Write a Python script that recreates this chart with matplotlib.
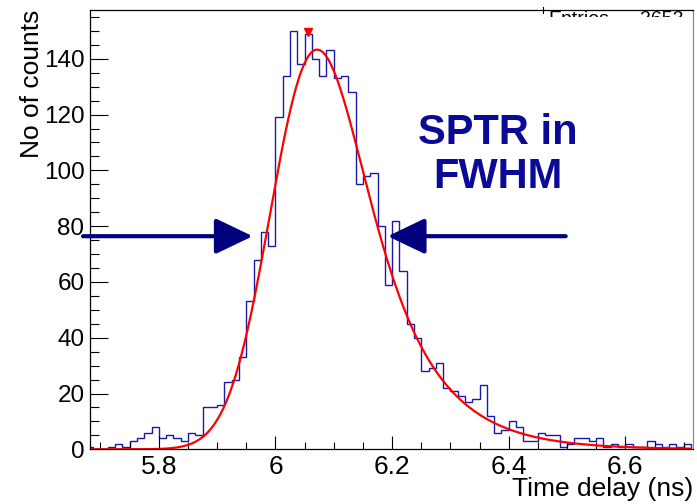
import math
import numpy as np
import matplotlib
matplotlib.use('Agg')
import matplotlib.pyplot as plt
from matplotlib.ticker import MultipleLocator, FuncFormatter
from matplotlib.transforms import Bbox

plt.rcParams['font.family'] = ['Liberation Sans', 'DejaVu Sans']

# histogram: 12.5 ps bins starting at 5.675 ns
bin_width = 0.0125
first_edge = 5.675
counts = [1, 0, 0, 1, 2, 1, 3, 4, 6, 8, 4, 5, 4, 3, 6, 5, 15, 15, 16, 24,
          25, 33, 53, 68, 78, 73,
          119, 134, 150, 138, 149, 140, 134, 143, 133, 134, 128, 95, 98, 99,
          80, 59, 82, 64, 45, 40, 28, 29, 31, 22, 21, 19, 17, 18, 23, 12,
          6, 7, 10, 8, 3, 3, 6, 5, 5, 1, 2, 4, 4, 3, 4, 1, 2, 1, 2, 1,
          1, 3, 2, 1, 2, 1, 2]
edges = first_edge + bin_width * np.arange(len(counts) + 1)

# exp-modified gaussian fit parameters
fit_const = 234.5
fit_mu = 6.016
fit_sigma = 0.065
fit_tau = 0.092

# peak marker
peak_x = 6.05625
peak_y = 149.5

navy = '#00007f'

fig = plt.figure(figsize=(6.97, 5.04), dpi=100)
ax = fig.add_axes([90/697, 1 - 449.3/504, 603/697, 439.3/504])

ax.stairs(counts, edges, color='#1a1aaa', lw=1.0)

xf = np.linspace(5.685, 6.712, 800)
erfc = np.vectorize(math.erfc)
yf = fit_const * np.exp(-(xf - fit_mu) / fit_tau) * \
    erfc((fit_sigma**2 / fit_tau - (xf - fit_mu)) / (math.sqrt(2) * fit_sigma))
ax.plot(xf, yf, color='red', lw=1.6)

ax.plot([peak_x], [peak_y], marker='v', color='red', ms=6, ls='none', clip_on=False)

ax.set_xlim(5.682, 6.716)
ax.set_ylim(0, 157.5)

ax.xaxis.set_major_locator(MultipleLocator(0.2))
ax.xaxis.set_minor_locator(MultipleLocator(0.05))
ax.yaxis.set_major_locator(MultipleLocator(20))
ax.yaxis.set_minor_locator(MultipleLocator(5))
ax.xaxis.set_major_formatter(FuncFormatter(lambda v, p: '%g' % round(v, 3)))
ax.tick_params(axis='x', which='major', direction='in', length=9.4, width=0.8,
               labelsize=19, pad=4)
ax.tick_params(axis='x', which='minor', direction='in', length=4.7, width=0.8)
ax.tick_params(axis='y', which='major', direction='in', length=13, width=0.8,
               labelsize=17.5, pad=4)
ax.tick_params(axis='y', which='minor', direction='in', length=6.5, width=0.8)
for s in ax.spines.values():
    s.set_linewidth(0.9)
ax.spines['right'].set_color('#888888')

ax.set_xlabel('Time delay (ns)', fontsize=19, loc='right')
ax.xaxis.set_label_coords(1.0, -0.064)
ax.set_ylabel('No of counts', fontsize=19, loc='top')
ax.yaxis.set_label_coords(-0.076, 1.0)

ax.text(0.6766, 0.67, 'SPTR in\nFWHM', transform=ax.transAxes, fontsize=30,
        fontweight='bold', color='#0a0a96', ha='center', va='center',
        linespacing=1.1)

head = '-|>,head_length=1.15,head_width=0.55'
ax.annotate('', xy=(5.961, 76.4), xytext=(5.670, 76.4), annotation_clip=False,
            arrowprops=dict(arrowstyle=head, lw=3, color=navy,
                            mutation_scale=20, shrinkA=0, shrinkB=0))
ax.annotate('', xy=(6.1925, 76.4), xytext=(6.4977, 76.4), annotation_clip=False,
            arrowprops=dict(arrowstyle=head, lw=3, color=navy,
                            mutation_scale=20, shrinkA=0, shrinkB=0))

# bits of the clipped stats box at the top right
fig.add_artist(plt.Line2D([543/697, 543/697], [1 - 13/504, 1 - 7/504],
                          color='black', lw=0.8))
clip = Bbox([[543, 504 - 17], [693, 504 - 10]])
for txt, xp in [('Entries', 548), ('2653', 640)]:
    t = fig.text(xp/697, 1 - 11/504, txt, fontsize=14, va='top', ha='left')
    t.set_clip_box(clip)
    t.set_clip_on(True)

fig.savefig('out.png', dpi=100)
